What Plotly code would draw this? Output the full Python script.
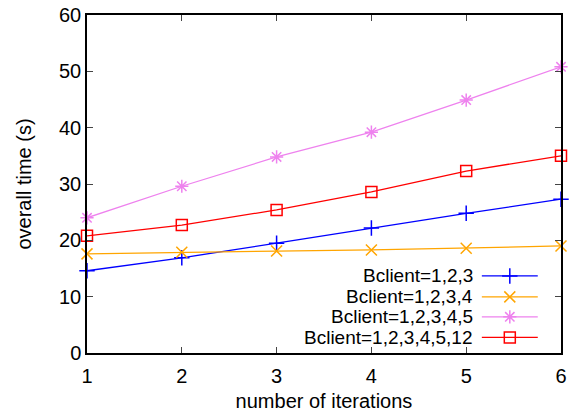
import plotly.graph_objects as go

iterations = [1, 2, 3, 4, 5, 6]
b123 = [14.6, 16.9, 19.5, 22.2, 24.8, 27.3]
b1234 = [17.6, 17.9, 18.1, 18.3, 18.6, 19.0]
b12345 = [24.0, 29.6, 34.8, 39.2, 44.9, 50.8]
b1234512 = [20.8, 22.7, 25.4, 28.6, 32.3, 35.0]
names = ["Bclient=1,2,3", "Bclient=1,2,3,4", "Bclient=1,2,3,4,5", "Bclient=1,2,3,4,5,12"]
colors = ["#0000ff", "#ffa500", "#ee82ee", "#ff0000"]
symbols = ["cross-thin-open", "x-thin-open", "asterisk-open", "square-open"]
sizes = [11, 11, 11, 11]
series = [b123, b1234, b12345, b1234512]

FONT = "Liberation Sans, Arial, sans-serif"
fig = go.Figure()
for ys, n, c, s, sz in zip(series, names, colors, symbols, sizes):
    fig.add_trace(go.Scatter(x=iterations, y=ys, mode="lines+markers", name=n,
                             line=dict(color=c, width=1.3),
                             marker=dict(symbol=s, size=sz, color=c, line=dict(color=c, width=1.5)),
                             showlegend=False, cliponaxis=False))

# custom legend (text left of sample) on overlay axes
leg_y = [0.228, 0.166, 0.107, 0.046]
for n, c, s, sz, y in zip(names, colors, symbols, sizes, leg_y):
    fig.add_trace(go.Scatter(x=[0.833, 0.951], y=[y, y], xaxis="x2", yaxis="y2",
                             mode="lines", line=dict(color=c, width=1.3), showlegend=False,
                             hoverinfo="skip"))
    fig.add_trace(go.Scatter(x=[0.892], y=[y], xaxis="x2", yaxis="y2",
                             mode="markers", marker=dict(symbol=s, size=sz, color=c, line=dict(color=c, width=1.5)),
                             showlegend=False, hoverinfo="skip"))
    fig.add_annotation(x=0.818, y=y, xref="x2", yref="y2", text=n, showarrow=False,
                       xanchor="right", yanchor="middle", font=dict(family=FONT, size=19, color="black"))

fig.update_layout(
    width=570, height=412, margin=dict(l=87, r=9, t=15, b=59),
    plot_bgcolor="white", paper_bgcolor="white",
    font=dict(family=FONT, size=20, color="black"),
    xaxis=dict(range=[1, 6], tickvals=iterations, ticks="inside", ticklen=6, mirror="allticks",
               showline=True, linecolor="black", linewidth=1.5, showgrid=False, zeroline=False,
               tickfont=dict(size=20), ticklabelstandoff=4, automargin=False,
               title=dict(text="number of iterations", standoff=8, font=dict(size=20))),
    yaxis=dict(range=[0, 60], tickvals=[0, 10, 20, 30, 40, 50, 60], ticks="inside", ticklen=6,
               mirror="allticks", showline=True, linecolor="black", linewidth=1.5, showgrid=False,
               tickfont=dict(size=20), automargin=False,
               zeroline=False, title=dict(text="overall time (s)", standoff=22, font=dict(size=20))),
    xaxis2=dict(range=[0, 1], overlaying="x", visible=False, anchor="y2"),
    yaxis2=dict(range=[0, 1], overlaying="y", visible=False, anchor="x2"),
)
fig.write_html("out.html")
